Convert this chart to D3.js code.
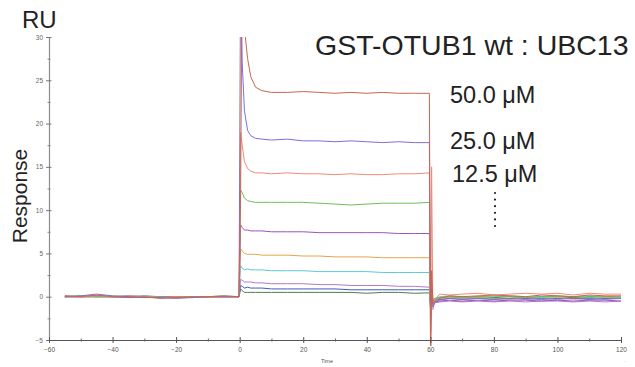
<!DOCTYPE html>
<html>
<head>
<meta charset="utf-8">
<script src="https://cdn.jsdelivr.net/npm/d3@7"></script>
<style>
  body { margin: 0; background: #fff; }
  svg { display: block; font-family: "Liberation Sans", Arial, sans-serif; }
</style>
</head>
<body>
<svg id="chart"></svg>
<script>
// ---------------------------------------- Data ----------------------------------------

// sample times (s), shared by every sensorgram
var times = [-55, -50, -45, -40, -35, -30, -25, -20, -15, -10, -5, -0.2,
  0.3, 0.8, 1.5, 2.5, 3.5, 5, 7, 10, 15, 20, 25, 30, 35, 40, 45, 50, 55, 59.7,
  60.1, 60.4, 60.8, 61.5, 63, 66, 70, 75, 80, 85, 90, 95, 100, 105, 110, 115, 120];

// response (RU) per injection, top to bottom
var s50 = [0.1, 0.0, 0.2, 0.0, -0.1, 0.0, -0.2, -0.1, 0.0, 0.0, 0.1, 0.0,
  12, 40, 31, 27.5, 25.4, 24.2, 23.8, 23.6, 23.6, 23.7, 23.6, 23.5, 23.6, 23.5, 23.6, 23.5, 23.5, 23.5,
  -8, 3, -0.8, -0.5, -0.2, 0.1, 0.0, 0.1, 0.2, 0.1, 0.0, 0.2, 0.1, 0.0, 0.2, 0.1, 0.1];
var s25 = [0.0, 0.1, 0.3, 0.1, 0.0, -0.1, -0.1, -0.2, -0.1, 0.0, 0.0, 0.0,
  38, 27, 21.5, 19.2, 18.6, 18.3, 18.2, 18.1, 18.2, 18.0, 18.0, 17.9, 18.0, 17.9, 17.8, 17.9, 17.8, 17.8,
  -4, 1, -1.2, -0.6, -0.4, -0.2, -0.3, -0.2, -0.3, -0.2, -0.3, -0.2, -0.3, -0.2, -0.2, -0.3, -0.2];
var s12 = [0.0, 0.0, 0.1, 0.0, 0.1, 0.0, -0.1, 0.0, -0.1, 0.0, 0.0, 0.0,
  19, 17.5, 15.6, 14.8, 14.5, 14.3, 14.3, 14.2, 14.3, 14.2, 14.2, 14.1, 14.2, 14.1, 14.1, 14.2, 14.2, 14.3,
  -9, 15, -1.5, -0.3, 0.3, 0.2, 0.3, 0.4, 0.2, 0.3, 0.4, 0.3, 0.4, 0.2, 0.4, 0.3, 0.3];
var s6 = [0.0, 0.1, 0.0, 0.0, -0.1, 0.0, 0.0, -0.1, 0.0, 0.0, 0.1, 0.0,
  12.3, 12.0, 11.4, 11.1, 11.0, 10.9, 10.9, 10.9, 10.9, 10.9, 10.8, 10.7, 10.6, 10.7, 10.8, 10.8, 10.8, 10.9,
  -3, 2, -0.6, -0.3, -0.1, 0.0, -0.1, 0.0, 0.1, 0.0, -0.1, 0.0, 0.1, 0.0, -0.1, 0.0, 0.0];
var s3 = [0.1, 0.0, 0.1, 0.0, 0.0, -0.1, 0.0, 0.0, -0.1, 0.0, 0.0, 0.0,
  8.3, 8.0, 7.7, 7.7, 7.6, 7.6, 7.6, 7.5, 7.5, 7.5, 7.4, 7.4, 7.4, 7.4, 7.4, 7.3, 7.3, 7.3,
  -2.5, 1.5, -0.9, -0.6, -0.5, -0.4, -0.5, -0.4, -0.5, -0.4, -0.4, -0.5, -0.4, -0.5, -0.4, -0.4, -0.5];
var s1 = [0.0, 0.0, 0.0, 0.1, 0.0, 0.0, -0.1, 0.0, 0.0, -0.1, 0.0, 0.0,
  5.5, 5.3, 5.0, 4.9, 4.9, 4.9, 4.8, 4.8, 4.8, 4.7, 4.7, 4.6, 4.6, 4.6, 4.5, 4.5, 4.5, 4.5,
  -2, 1.2, -0.7, -0.4, -0.2, -0.1, -0.2, -0.1, -0.2, -0.3, -0.1, -0.2, -0.1, -0.3, -0.2, -0.1, -0.2];
var s08 = [0.0, 0.1, 0.0, 0.0, 0.0, 0.0, -0.1, 0.0, 0.0, 0.0, 0.0, 0.0,
  3.6, 3.3, 3.1, 3.2, 3.1, 3.1, 3.1, 3.0, 3.0, 3.0, 2.9, 2.9, 2.9, 2.9, 2.8, 2.8, 2.8, 2.8,
  -1.8, 1.0, -0.5, -0.2, 0.0, 0.1, 0.0, -0.1, 0.0, 0.1, 0.0, -0.1, 0.0, 0.0, 0.1, 0.0, -0.1];
var s04 = [0.0, 0.0, 0.1, 0.0, 0.0, 0.0, 0.0, -0.1, 0.0, 0.0, 0.0, 0.0,
  2.0, 1.9, 1.7, 1.7, 1.7, 1.6, 1.6, 1.5, 1.5, 1.5, 1.4, 1.4, 1.3, 1.3, 1.3, 1.2, 1.2, 1.1,
  -1.5, 0.8, -0.9, -0.7, -0.6, -0.5, -0.6, -0.5, -0.6, -0.5, -0.6, -0.5, -0.5, -0.6, -0.5, -0.6, -0.5];
var s02 = [0.0, 0.0, 0.0, 0.0, 0.1, 0.0, 0.0, 0.0, -0.1, 0.0, 0.0, 0.0,
  1.3, 1.2, 1.0, 1.1, 1.0, 1.0, 1.0, 0.9, 0.9, 0.9, 0.9, 0.9, 0.8, 0.8, 0.8, 0.8, 0.8, 0.8,
  -1.2, 0.6, -0.6, -0.4, -0.3, -0.2, -0.3, -0.2, -0.3, -0.2, -0.2, -0.3, -0.2, -0.2, -0.3, -0.2, -0.2];
var s01 = [0.0, 0.0, 0.0, 0.0, 0.0, 0.1, 0.0, 0.0, 0.0, 0.0, 0.0, 0.0,
  0.9, 0.7, 0.5, 0.5, 0.5, 0.5, 0.5, 0.5, 0.5, 0.5, 0.5, 0.5, 0.5, 0.4, 0.5, 0.5, 0.4, 0.45,
  -1.0, 0.5, -0.4, -0.2, -0.1, 0.0, -0.1, 0.0, -0.1, 0.0, -0.1, 0.0, 0.0, -0.1, 0.0, 0.0, -0.1];

var seriesValues = [s50, s25, s12, s6, s3, s1, s08, s04, s02, s01];
var seriesColors = ['#c9674c', '#7b70d8', '#f38b74', '#6cc05a', '#9b55ba',
                    '#e2a64a', '#5ec9d2', '#b676cc', '#3c5cbc', '#4d7d4d'];

var concLabels = ['50.0 \u03bcM', '25.0 \u03bcM', '12.5 \u03bcM'];
var xTicks = [-60, -40, -20, 0, 20, 40, 60, 80, 100, 120];
var xMinor = [-50, -30, -10, 10, 30, 50, 70, 90, 110];
var yTicks = [-5, 0, 5, 10, 15, 20, 25, 30];
var yMinor = [-2.5, 2.5, 7.5, 12.5, 17.5, 22.5, 27.5];

// ---------------------------------------- Chart ----------------------------------------

var width = 635;
var height = 367;

var svg = d3.select('#chart')
            .attr('width', width)
            .attr('height', height);

var xScale = d3.scaleLinear().domain([-60, 120]).range([49, 621]);
var yScale = d3.scaleLinear().domain([-5, 30]).range([340, 37]);

svg.append('clipPath')
    .attr('id', 'plotClip')
  .append('rect')
    .attr('x', xScale(-60))
    .attr('y', yScale(30))
    .attr('width', xScale(120) - xScale(-60))
    .attr('height', yScale(-5) - yScale(30) + 6);

// sensorgrams
var line = d3.line()
             .x(function(d, i) { return xScale(times[i]); })
             .y(function(d) { return yScale(d); });

svg.append('g')
    .attr('clip-path', 'url(#plotClip)')
  .selectAll('path')
  .data(seriesValues.slice().reverse())
  .enter()
  .append('path')
    .attr('d', line)
    .attr('fill', 'none')
    .attr('stroke', function(d, i) { return seriesColors[seriesColors.length - 1 - i]; })
    .attr('stroke-width', 1);

// y axis
var yAxis = svg.append('g')
    .attr('transform', 'translate(' + xScale(-60) + ',0)')
    .call(d3.axisLeft(yScale).tickValues(yTicks).tickSize(3).tickPadding(3).tickSizeOuter(0));
yAxis.select('.domain').attr('stroke', '#8c8c8c').attr('stroke-width', 1.2);
yAxis.selectAll('.tick line').attr('x1', 2.5).attr('stroke', '#777');
yAxis.selectAll('.tick text').attr('font-size', '6.5px').attr('fill', '#666').attr('font-family', 'Liberation Sans, Arial');

var yAxisMinor = svg.append('g')
    .attr('transform', 'translate(' + xScale(-60) + ',0)')
    .call(d3.axisLeft(yScale).tickValues(yMinor).tickSize(1.5).tickFormat('').tickSizeOuter(0));
yAxisMinor.select('.domain').remove();
yAxisMinor.selectAll('.tick line').attr('x1', 1.5).attr('stroke', '#888');

// x axis
var xAxis = svg.append('g')
    .attr('transform', 'translate(0,' + yScale(-5) + ')')
    .call(d3.axisBottom(xScale).tickValues(xTicks).tickSize(3).tickPadding(4).tickSizeOuter(0));
xAxis.select('.domain').attr('stroke', '#555').attr('stroke-width', 1.2);
xAxis.selectAll('.tick line').attr('y1', -3).attr('stroke', '#555');
xAxis.selectAll('.tick text').attr('font-size', '6.5px').attr('fill', '#555').attr('font-family', 'Liberation Sans, Arial');

var xAxisMinor = svg.append('g')
    .attr('transform', 'translate(0,' + yScale(-5) + ')')
    .call(d3.axisBottom(xScale).tickValues(xMinor).tickSize(1.5).tickFormat('').tickSizeOuter(0));
xAxisMinor.select('.domain').remove();
xAxisMinor.selectAll('.tick line').attr('y1', -1.5).attr('stroke', '#666');

// axis titles
svg.append('text')
    .text('Time')
    .attr('x', 327)
    .attr('y', 363)
    .attr('text-anchor', 'middle')
    .attr('font-size', '5.5px')
    .attr('fill', '#555');

svg.append('text')
    .text('.')
    .attr('x', 625)
    .attr('y', 362)
    .attr('text-anchor', 'middle')
    .attr('font-size', '5px')
    .attr('fill', '#999');

svg.append('text')
    .text('RU')
    .attr('x', 22)
    .attr('y', 28)
    .attr('font-size', '24px')
    .attr('fill', '#222');

svg.append('text')
    .text('Response')
    .attr('transform', 'translate(27,196) rotate(-90)')
    .attr('text-anchor', 'middle')
    .attr('font-size', '21px')
    .attr('fill', '#222');

// title and concentrations
svg.append('text')
    .text('GST-OTUB1 wt : UBC13')
    .attr('x', 315)
    .attr('y', 55)
    .attr('font-size', '28.5px')
    .attr('fill', '#222');

svg.selectAll('.conc')
  .data(concLabels)
  .enter()
  .append('text')
    .classed('conc', true)
    .text(function(d) { return d; })
    .attr('x', function(d, i) { return i === 2 ? 452 : 450; })
    .attr('y', function(d, i) { return [103, 149, 182][i]; })
    .attr('font-size', '23.5px')
    .attr('fill', '#222');

// vertical dots under the labels
svg.selectAll('.dot')
  .data(d3.range(6))
  .enter()
  .append('circle')
    .classed('dot', true)
    .attr('cx', 495)
    .attr('cy', function(d) { return 193 + d * 6.6; })
    .attr('r', 1.1)
    .attr('fill', '#222');
</script>
</body>
</html>
